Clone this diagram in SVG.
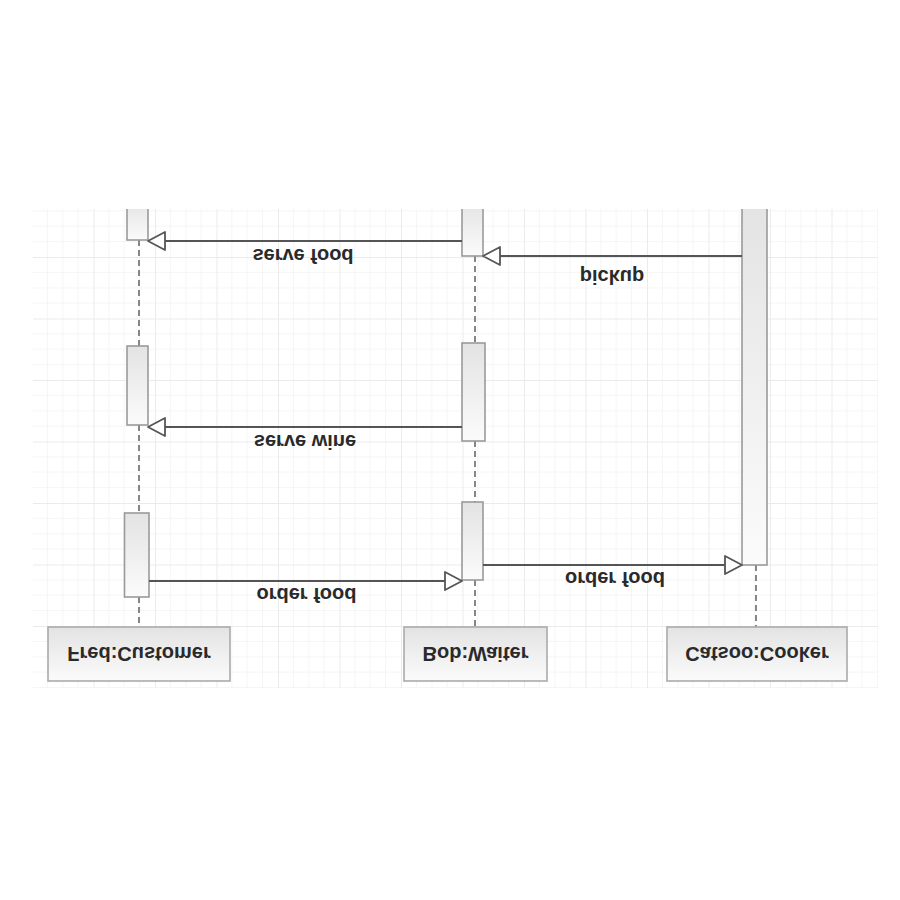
<svg xmlns="http://www.w3.org/2000/svg" width="900" height="900" viewBox="0 0 900 900">
  <defs>
    <pattern id="grid" patternUnits="userSpaceOnUse" x="32" y="195.5" width="61.5" height="61.5">
      <path d="M15.375,0V61.5M30.75,0V61.5M46.125,0V61.5M0,15.375H61.5M0,30.75H61.5M0,46.125H61.5" stroke="#f5f5f5" stroke-width="1" fill="none"/>
      <path d="M0.5,0V61.5M0,0.5H61.5" stroke="#ebebeb" stroke-width="1" fill="none"/>
    </pattern>
    <linearGradient id="fillg" x1="0" y1="0" x2="0" y2="1">
      <stop offset="0" stop-color="#e3e3e3"/>
      <stop offset="1" stop-color="#fbfbfb"/>
    </linearGradient>
    <clipPath id="clip">
      <rect x="33" y="209" width="845" height="479"/>
    </clipPath>
    <marker id="tri" viewBox="0 0 19 21" refX="18" refY="10.5" markerWidth="19" markerHeight="21" markerUnits="userSpaceOnUse" orient="auto">
      <path d="M1,1.5 L18,10.5 L1,19.5 Z" fill="#ffffff" stroke="#555555" stroke-width="1.8" stroke-linejoin="round"/>
    </marker>
    <style>
      .box { fill: url(#fillg); stroke: #ababab; stroke-width: 1.6; }
      .act { fill: url(#fillg); stroke: #9a9a9a; stroke-width: 1.6; }
      .life { stroke: #7a7a7a; stroke-width: 1.8; stroke-dasharray: 6 4; fill: none; }
      .msg { stroke: #555555; stroke-width: 2; fill: none; marker-end: url(#tri); }
      .lbl { font-family: "Liberation Sans", Arial, sans-serif; font-size: 20px; font-weight: bold; fill: #2a2a2a; text-anchor: middle; }
    </style>
  </defs>
  <rect x="0" y="0" width="900" height="900" fill="#ffffff"/>
  <rect x="33" y="209" width="845" height="479" fill="url(#grid)"/>
  <g clip-path="url(#clip)">
    <g id="node-fred">
      <path class="life" d="M139,240V346M139,425V513M139,597V627"/>
      <rect id="fred-act-top" class="act" x="127" y="200" width="21" height="40"/>
      <rect id="fred-act-mid" class="act" x="127" y="346" width="21" height="79"/>
      <rect id="fred-act-bot" class="act" x="124.5" y="513" width="24.5" height="84"/>
      <rect class="box" x="48" y="627" width="182" height="54"/>
      <text class="lbl" transform="translate(139,647) scale(1,-1)">Fred:Customer</text>
    </g>
    <g id="node-bob">
      <path class="life" d="M475,256V343M475,441V502M475,580V627"/>
      <rect id="bob-act-top" class="act" x="462" y="200" width="21" height="56"/>
      <rect id="bob-act-mid" class="act" x="462" y="343" width="23" height="98"/>
      <rect id="bob-act-bot" class="act" x="462" y="502" width="21" height="78"/>
      <rect class="box" x="404" y="627" width="143" height="54"/>
      <text class="lbl" transform="translate(475.5,647) scale(1,-1)">Bob:Waiter</text>
    </g>
    <g id="node-catsoo">
      <path class="life" d="M756,565V627"/>
      <rect id="catsoo-act" class="act" x="742" y="200" width="25" height="365"/>
      <rect class="box" x="667" y="627" width="180" height="54"/>
      <text class="lbl" transform="translate(757,647) scale(1,-1)">Catsoo:Cooker</text>
    </g>
    <g id="connectors">
      <path class="msg" d="M149,581H462"/>
      <text class="lbl" transform="translate(306.5,588) scale(1,-1)">order food</text>
      <path class="msg" d="M483,565H742"/>
      <text class="lbl" transform="translate(615,572) scale(1,-1)">order food</text>
      <path class="msg" d="M462,427H148"/>
      <text class="lbl" transform="translate(305,435) scale(1,-1)">serve wine</text>
      <path class="msg" d="M742,256H483"/>
      <text class="lbl" transform="translate(612,270) scale(1,-1)">pickup</text>
      <path class="msg" d="M462,241H148"/>
      <text class="lbl" transform="translate(303,249) scale(1,-1)">serve food</text>
    </g>
  </g>
</svg>
